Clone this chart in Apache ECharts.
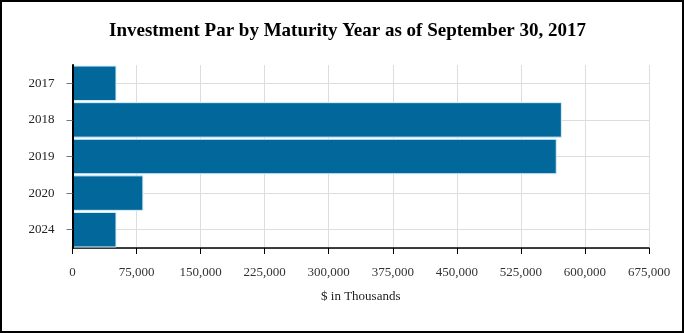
<!DOCTYPE html>
<html>
<head>
<meta charset="utf-8">
<script src="https://cdn.jsdelivr.net/npm/echarts@6/dist/echarts.min.js"></script>
<style>
html,body{margin:0;padding:0;background:#fff;}
#chart{width:684px;height:333px;}
</style>
</head>
<body>
<div id="chart"></div>
<script>
var titleText = 'Investment Par by Maturity Year as of September 30, 2017';
var categories = ['2017', '2018', '2019', '2020', '2024'];
var parValues = [51500, 573000, 567000, 83000, 51500];
var xAxisName = '$ in Thousands';
var xMin = 0, xMax = 675000, xInterval = 75000;

var serif = '"Liberation Serif", "Times New Roman", serif';
// helper half-slot axis so horizontal grid lines sit at category centres
var halfSlots = [];
categories.forEach(function (c) { halfSlots.push(c + 'a', c + 'b'); });

var chart = echarts.init(document.getElementById('chart'), null, {renderer: 'canvas'});
chart.setOption({
  animation: false,
  backgroundColor: '#fff',
  title: {
    text: titleText,
    left: 104,
    top: 17,
    textStyle: {fontFamily: serif, fontSize: 19, fontWeight: 'bold', color: '#000'}
  },
  grid: {left: 72.5, right: 35, top: 65, bottom: 85, containLabel: false},
  xAxis: {
    type: 'value',
    min: xMin, max: xMax, interval: xInterval,
    name: xAxisName,
    nameLocation: 'middle',
    nameGap: 42,
    nameTextStyle: {fontFamily: serif, fontSize: 13, color: '#222'},
    axisLine: {show: true, lineStyle: {color: '#000', width: 1.5}},
    axisTick: {show: true, length: 6, lineStyle: {color: '#000'}},
    axisLabel: {fontFamily: serif, fontSize: 13, color: '#333', margin: 18,
      formatter: function (v) { return v.toLocaleString('en-US'); }},
    splitLine: {show: true, lineStyle: {color: '#dddddd', width: 1}}
  },
  yAxis: [{
    type: 'category',
    data: categories,
    inverse: true,
    z: 5,
    axisLine: {show: true, lineStyle: {color: '#000', width: 2}},
    axisTick: {show: true, alignWithLabel: true, length: 6, lineStyle: {color: '#777'}},
    axisLabel: {fontFamily: serif, fontSize: 13, color: '#222', margin: 18},
    splitLine: {show: false}
  }, {
    type: 'category',
    data: halfSlots,
    inverse: true,
    position: 'left',
    z: 0,
    axisLine: {show: false},
    axisTick: {show: false},
    axisLabel: {show: false},
    splitLine: {
      show: true,
      interval: function (index) { return index % 2 === 1; },
      lineStyle: {color: '#dddddd', width: 1}
    }
  }],
  graphic: [{
    type: 'rect',
    shape: {x: 1, y: 1, width: 682, height: 331},
    style: {fill: 'none', stroke: '#000', lineWidth: 2},
    silent: true, z: 100
  }],
  series: [
    {
      type: 'bar',
      data: parValues,
      yAxisIndex: 0,
      z: 3,
      barCategoryGap: '3%',
      itemStyle: {color: '#02689b', borderColor: '#d6eef9', borderWidth: 1}
    }
  ]
});
</script>
</body>
</html>
